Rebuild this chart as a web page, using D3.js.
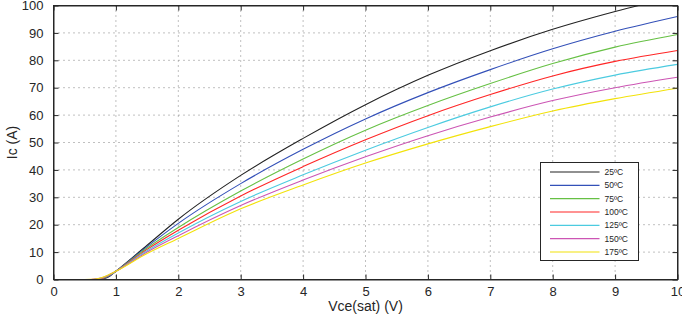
<!DOCTYPE html>
<meta charset="utf-8">
<style>
body { margin: 0; background: #fff; }
text { font-family: "Liberation Sans", Arial, sans-serif; fill: #262626; }
.grid line { stroke: #808080; stroke-width: 1; stroke-dasharray: 1,4; }
.curve { fill: none; stroke-width: 1.1; }
</style>
<svg width="682" height="324"></svg>
<script src="https://d3js.org/d3.v7.min.js"></script>
<script>

// Vce(sat) sample points (V)
var vce = [0, 0.5, 0.6, 0.7, 0.8, 0.9, 1, 1.5, 2, 3, 4, 5, 6, 7, 8, 9, 10];

// Ic (A) per temperature
var ic25  = [0, 0, 0,    0,    0.3, 1.2, 3, 12.5, 22,   38,   51.5, 63.8, 74.5, 83.5, 91.3, 97.8, 103.5];
var ic50  = [0, 0, 0,    0.05, 0.4, 1.3, 3, 12,   20.5, 35,   47.5, 58.6, 68.2, 76.6, 84.2, 90.6, 96];
var ic75  = [0, 0, 0,    0.1,  0.5, 1.5, 3, 11.5, 19,   32.3, 44,   54.5, 63.5, 71.5, 78.8, 84.8, 89.4];
var ic100 = [0, 0, 0,    0.15, 0.6, 1.6, 3, 11,   18,   30.5, 41.2, 51,   59.8, 67.5, 74.3, 79.6, 83.6];
var ic125 = [0, 0, 0,    0.2,  0.7, 1.7, 3, 10.5, 17,   28.5, 38.2, 47.2, 55.5, 63,   69.5, 74.6, 78.5];
var ic150 = [0, 0, 0.02, 0.25, 0.8, 1.8, 3, 10,   16,   27,   36.3, 44.8, 52.5, 59.3, 65.3, 70,   73.8];
var ic175 = [0, 0, 0.05, 0.3,  0.9, 1.9, 3, 9.5,  15,   25.8, 34.5, 42.5, 49.5, 55.8, 61.5, 66,   69.8];

var labels = ["25ºC", "50ºC", "75ºC", "100ºC", "125ºC", "150ºC", "175ºC"];
var colors = ["#222222", "#3350b8", "#66c044", "#ff2626", "#4ccbe0", "#cc55b4", "#f2e20a"];
var xTicks = d3.range(0, 11, 1);
var yTicks = d3.range(0, 101, 10);

var series = [ic25, ic50, ic75, ic100, ic125, ic150, ic175].map(function(vals, i) {
	return { label: labels[i], color: colors[i], values: vals.map(function(v, j) { return [vce[j], v]; }) };
});

var svg = d3.select("svg");
var pLeft = 53.5, pRight = 677.5, pTop = 5.5, pBottom = 279.5;

var x = d3.scaleLinear().domain([0, 10]).range([pLeft, pRight]);
var y = d3.scaleLinear().domain([0, 100]).range([pBottom, pTop]);

svg.append("defs").append("clipPath").attr("id", "clip")
  .append("rect")
	.attr("x", pLeft).attr("y", pTop)
	.attr("width", pRight - pLeft).attr("height", pBottom - pTop);

// grid
var grid = svg.append("g").attr("class", "grid");
grid.selectAll(".gx")
  .data(xTicks.slice(1, -1))
  .enter().append("line")
	.attr("x1", x).attr("x2", x)
	.attr("y1", pTop).attr("y2", pBottom);
grid.selectAll(".gy")
  .data(yTicks.slice(1, -1))
  .enter().append("line")
	.attr("y1", y).attr("y2", y)
	.attr("x1", pLeft).attr("x2", pRight);

// curves (hot ones drawn last, on top)
var line = d3.line()
	.x(function(d) { return x(d[0]); })
	.y(function(d) { return y(d[1]); })
	.curve(d3.curveMonotoneX);

svg.append("g")
	.attr("clip-path", "url(#clip)")
  .selectAll("path")
  .data(series)
  .enter().append("path")
	.attr("class", "curve")
	.attr("stroke", function(d) { return d.color; })
	.attr("d", function(d) { return line(d.values); });

// axes, ticks inward on all four sides
var tl = -5;
svg.append("g").attr("transform", "translate(0," + pBottom + ")")
	.call(d3.axisBottom(x).tickValues(xTicks).tickSizeInner(tl).tickSizeOuter(0).tickPadding(7));
svg.append("g").attr("transform", "translate(0," + pTop + ")")
	.call(d3.axisTop(x).tickValues(xTicks).tickSizeInner(tl).tickSizeOuter(0).tickFormat(""));
svg.append("g").attr("transform", "translate(" + pLeft + ",0)")
	.call(d3.axisLeft(y).tickValues(yTicks).tickSizeInner(tl).tickSizeOuter(0).tickPadding(10));
svg.append("g").attr("transform", "translate(" + pRight + ",0)")
	.call(d3.axisRight(y).tickValues(yTicks).tickSizeInner(tl).tickSizeOuter(0).tickFormat(""));

svg.selectAll(".domain").attr("stroke", "#262626");
svg.selectAll(".tick line").attr("stroke", "#262626");
svg.selectAll(".tick text")
	.style("font-family", "'Liberation Sans', Arial, sans-serif")
	.style("font-size", "13px")
	.attr("fill", "#262626");

svg.append("rect")
	.attr("x", pLeft).attr("y", pTop)
	.attr("width", pRight - pLeft).attr("height", pBottom - pTop)
	.attr("fill", "none").attr("stroke", "#262626");

// axis titles
svg.append("text")
	.attr("x", (pLeft + pRight) / 2).attr("y", 311)
	.attr("text-anchor", "middle")
	.style("font-size", "14px")
	.text("Vce(sat) (V)");

svg.append("text")
	.attr("transform", "translate(17," + (pTop + pBottom) / 2 + ") rotate(-90)")
	.attr("text-anchor", "middle")
	.style("font-size", "14px")
	.text("Ic (A)");

// legend
var legend = svg.append("g").attr("transform", "translate(540.5,162.5)");
legend.append("rect")
	.attr("width", 98).attr("height", 98)
	.attr("fill", "#fff").attr("stroke", "#262626");

var row = d3.scaleLinear().domain([0, 6]).range([9.5, 89.5]);
var item = legend.selectAll(".item")
  .data(series)
  .enter().append("g")
	.attr("transform", function(d, i) { return "translate(0," + row(i) + ")"; });
item.append("line")
	.attr("x1", 9.5).attr("x2", 59)
	.attr("stroke", function(d) { return d.color; })
	.attr("stroke-width", 1.1);
item.append("text")
	.attr("x", 64).attr("dy", "0.35em")
	.style("font-size", "8.5px")
	.text(function(d) { return d.label; });

</script>
